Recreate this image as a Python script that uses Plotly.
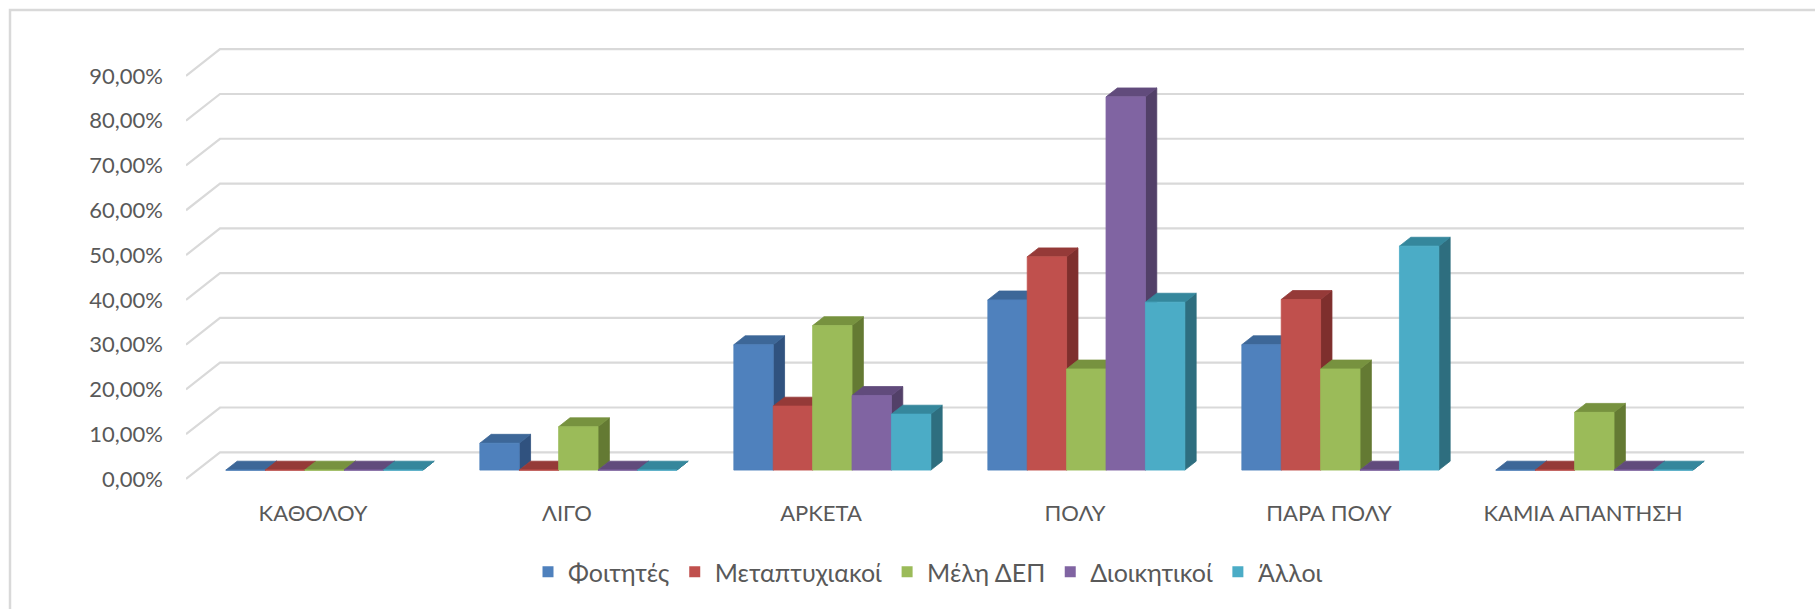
import plotly.graph_objects as go

# Survey answers per group (percent of each group's respondents)
categories = ["ΚΑΘΟΛΟΥ", "ΛΙΓΟ", "ΑΡΚΕΤΑ", "ΠΟΛΥ", "ΠΑΡΑ ΠΟΛΥ", "ΚΑΜΙΑ ΑΠΑΝΤΗΣΗ"]
foitites = [0.00, 6.00, 28.00, 38.00, 28.00, 0.00]
metaptyxiakoi = [0.00, 0.00, 14.29, 47.62, 38.10, 0.00]
meli_dep = [0.00, 9.68, 32.26, 22.58, 22.58, 12.90]
dioikitikoi = [0.00, 0.00, 16.67, 83.33, 0.00, 0.00]
alloi = [0.00, 0.00, 12.50, 37.50, 50.00, 0.00]
series_names = ["Φοιτητές", "Μεταπτυχιακοί", "Μέλη ΔΕΠ", "Διοικητικοί", "Άλλοι"]
y_ticks = [0, 10, 20, 30, 40, 50, 60, 70, 80, 90]

series_values = [foitites, metaptyxiakoi, meli_dep, dioikitikoi, alloi]

# face colours: front, top, side
palette = [
    ("#4F81BD", "#3D6798", "#30527F"),
    ("#C0504D", "#953A38", "#7E2F2D"),
    ("#9BBB59", "#77923F", "#647A33"),
    ("#8064A2", "#614B7C", "#524068"),
    ("#4BACC6", "#35879C", "#2E6E7F"),
]

W, H = 1815, 609
M_L, M_R, M_T, M_B = 186, 55, 20, 119
PX_X = 254.0           # pixels per category
PX_Y = 4.479           # pixels per percent
ZERO_PX = 479.0        # pixel row of the front 0 level
plot_w = W - M_L - M_R
plot_h = H - M_T - M_B
x_range = [0, plot_w / PX_X]
y_range = [-(H - M_B - ZERO_PX) / PX_Y, (ZERO_PX - M_T) / PX_Y]

# oblique depth of the back wall, in data units
WALL_DX = 34.0 / PX_X
WALL_DY = 26.7 / PX_Y
# bars sit in the middle third of the depth
F_FRONT, F_BACK = 1 / 3, 2 / 3
BAR_W = 39.4 / PX_X
n_series = len(series_values)

GRID = "#D9D9D9"
TEXT = "#595959"
FONT = "Lato"

fig = go.Figure()

# back-wall gridlines with their slanted side-wall segments
gx, gy = [], []
n_cat = len(categories)
for v in y_ticks:
    gx += [0, WALL_DX, n_cat + WALL_DX, None]
    gy += [v, v + WALL_DY, v + WALL_DY, None]
fig.add_trace(go.Scatter(x=gx, y=gy, mode="lines", line=dict(color=GRID, width=2.2),
                         hoverinfo="skip", showlegend=False))

ddx = (F_BACK - F_FRONT) * WALL_DX
ddy = (F_BACK - F_FRONT) * WALL_DY
base = F_FRONT * WALL_DY
for j, (vals, (c_front, c_top, c_side)) in enumerate(zip(series_values, palette)):
    sx, sy, tx, ty, fx, fy = [], [], [], [], [], []
    for i, v in enumerate(vals):
        left = i + 0.5 - n_series * BAR_W / 2 + j * BAR_W + F_FRONT * WALL_DX
        right = left + BAR_W
        top = base + v
        # right side face
        sx += [right, right + ddx, right + ddx, right, right, None]
        sy += [base, base + ddy, top + ddy, top, base, None]
        # top face
        tx += [left, right, right + ddx, left + ddx, left, None]
        ty += [top, top, top + ddy, top + ddy, top, None]
        # front face
        fx += [left, right, right, left, left, None]
        fy += [base, base, top, top, base, None]
    for xs, ys, col in ((sx, sy, c_side), (tx, ty, c_top), (fx, fy, c_front)):
        fig.add_trace(go.Scatter(x=xs, y=ys, mode="lines", fill="toself", fillcolor=col,
                                 line=dict(color=col, width=0.8), hoverinfo="skip",
                                 showlegend=False))
    # legend key
    fig.add_trace(go.Scatter(x=[None], y=[None], mode="markers", name=series_names[j],
                             marker=dict(symbol="square", size=11, color=c_front)))

# chart frame
fig.add_shape(type="rect", xref="paper", yref="paper",
              x0=(10 - M_L) / plot_w, x1=(W + 20 - M_L) / plot_w,
              y0=(H - M_B - (H + 20)) / plot_h, y1=(H - M_B - 10) / plot_h,
              line=dict(color=GRID, width=2.5), fillcolor="rgba(0,0,0,0)", layer="below")

fig.update_layout(
    width=W, height=H,
    margin=dict(l=M_L, r=M_R, t=M_T, b=M_B, pad=0),
    paper_bgcolor="white", plot_bgcolor="white",
    font=dict(family=FONT, color=TEXT, size=22),
    xaxis=dict(range=x_range, showgrid=False, zeroline=False, showline=False,
               tickmode="array", tickvals=[i + 0.5 for i in range(n_cat)],
               ticktext=categories, ticks="", ticklabelstandoff=8,
               tickfont=dict(size=22, color=TEXT, family=FONT), fixedrange=True),
    yaxis=dict(range=y_range, showgrid=False, zeroline=False, showline=False,
               tickmode="array", tickvals=y_ticks,
               ticktext=[f"{v:.2f}".replace(".", ",") + "%" for v in y_ticks],
               ticks="", ticklabelstandoff=22,
               tickfont=dict(size=22, color=TEXT, family=FONT), fixedrange=True),
    legend=dict(orientation="h", xanchor="center", yanchor="middle",
                x=(928 - M_L) / plot_w, y=(H - M_B - 572) / plot_h,
                font=dict(size=25, color=TEXT, family=FONT), itemwidth=30,
                bgcolor="rgba(0,0,0,0)", tracegroupgap=0),
    showlegend=True,
)

fig.write_html("out.html")
